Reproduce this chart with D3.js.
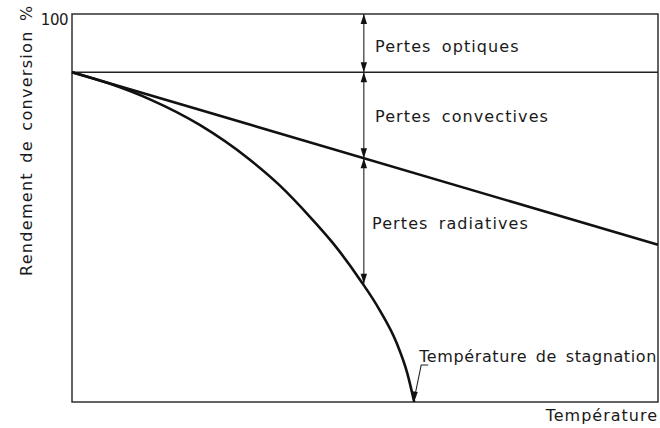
<!DOCTYPE html>
<html>
<head>
<meta charset="utf-8">
<script src="https://cdn.jsdelivr.net/npm/d3@7"></script>
<style>
  body { margin: 0; background: #fff; }
  text { font-family: "DejaVu Sans", sans-serif; fill: #1a1a1a; }
</style>
</head>
<body>
<div id="chart"></div>
<script>
(function() {

  // temperature (0..100 arbitrary units) vs conversion efficiency (%)
  var opticalLevel = 85;
  var convTemp = [0, 100],
      convEff = [85, 40.5];
  var radTemp = [0, 6.5, 13.3, 21.8, 30.3, 35.4, 41.1, 44.5, 49.2, 52.5, 55.4, 57.2, 58.4],
      radEff = [85, 82, 78, 71.4, 62.5, 55.9, 46.9, 41, 31.4, 23.7, 15.2, 7.5, 0];
  var lossTemp = 49.8,
      lossLevels = [100, 85, 62.8, 30.5],
      lossLabels = ["Pertes optiques", "Pertes convectives", "Pertes radiatives"];
  var stagnationTemp = 58.4;

  var width = 660,
      height = 428;

  var x = d3.scaleLinear().domain([0, 100]).range([72, 658]),
      y = d3.scaleLinear().domain([0, 100]).range([402, 14]);

  var svg = d3.select("#chart").append("svg")
      .attr("width", width)
      .attr("height", height);

  // frame
  svg.append("rect")
      .attr("x", x(0))
      .attr("y", y(100))
      .attr("width", x(100) - x(0))
      .attr("height", y(0) - y(100))
      .attr("fill", "none")
      .attr("stroke", "#222")
      .attr("stroke-width", 1.4);

  // optical efficiency level
  svg.append("line")
      .attr("x1", x(0)).attr("x2", x(100))
      .attr("y1", y(opticalLevel)).attr("y2", y(opticalLevel))
      .attr("stroke", "#222")
      .attr("stroke-width", 1.4);

  var line = d3.line()
      .x(function(d) { return x(d[0]); })
      .y(function(d) { return y(d[1]); });

  svg.append("path")
      .datum(d3.zip(convTemp, convEff))
      .attr("d", line)
      .attr("fill", "none")
      .attr("stroke", "#111")
      .attr("stroke-width", 2.6);

  svg.append("path")
      .datum(d3.zip(radTemp, radEff))
      .attr("d", line.curve(d3.curveMonotoneX))
      .attr("fill", "none")
      .attr("stroke", "#111")
      .attr("stroke-width", 2.6);

  function arrowHead(px, py, dir) {
    // dir = -1 points up, 1 points down
    svg.append("path")
        .attr("d", "M" + px + "," + py +
                   "L" + (px - 3.2) + "," + (py - dir * 10) +
                   "L" + (px + 3.2) + "," + (py - dir * 10) + "Z")
        .attr("fill", "#111");
  }

  // loss arrows
  var ax = x(lossTemp);
  for (var i = 0; i < lossLevels.length - 1; ++i) {
    var top = y(lossLevels[i]), bot = y(lossLevels[i + 1]);
    svg.append("line")
        .attr("x1", ax).attr("x2", ax)
        .attr("y1", top).attr("y2", bot)
        .attr("stroke", "#222")
        .attr("stroke-width", 1.1);
    arrowHead(ax, top, -1);
    arrowHead(ax, bot, 1);
  }

  var labelPos = [[375, 52], [375, 122], [372, 229]];
  svg.selectAll(".loss")
      .data(lossLabels)
    .enter().append("text")
      .attr("class", "loss")
      .attr("x", function(d, i) { return labelPos[i][0]; })
      .attr("y", function(d, i) { return labelPos[i][1]; })
      .attr("font-size", 16)
      .attr("letter-spacing", 1.1)
      .attr("word-spacing", 4)
      .text(function(d) { return d; });

  // stagnation temperature leader
  var sx = x(stagnationTemp), sy = y(0);
  svg.append("path")
      .attr("d", "M" + (sx + 14) + "," + (sy - 37) + "L" + (sx + 7) + "," + (sy - 37) + "L" + (sx + 1) + "," + (sy - 8))
      .attr("fill", "none")
      .attr("stroke", "#222")
      .attr("stroke-width", 1.1);
  svg.append("path")
      .attr("d", "M" + sx + "," + sy + "L" + (sx - 3.5) + "," + (sy - 11) + "L" + (sx + 3.5) + "," + (sy - 10) + "Z")
      .attr("fill", "#111");

  svg.append("text")
      .attr("x", sx + 5)
      .attr("y", sy - 40)
      .attr("font-size", 16)
      .attr("letter-spacing", 0.6)
      .attr("word-spacing", 3)
      .text("Température de stagnation");

  // axis labels
  svg.append("text")
      .attr("x", x(100))
      .attr("y", 421)
      .attr("text-anchor", "end")
      .attr("font-size", 16)
      .attr("letter-spacing", 1)
      .text("Température");

  svg.append("text")
      .attr("transform", "translate(32,276) rotate(-90)")
      .attr("font-size", 16)
      .attr("letter-spacing", 1.3)
      .attr("word-spacing", 3)
      .text("Rendement de conversion %");

  svg.append("text")
      .attr("x", 68)
      .attr("y", y(100) + 11)
      .attr("text-anchor", "end")
      .attr("font-size", 15)
      .attr("letter-spacing", -0.5)
      .text("100");

})()
</script>
</body>
</html>
